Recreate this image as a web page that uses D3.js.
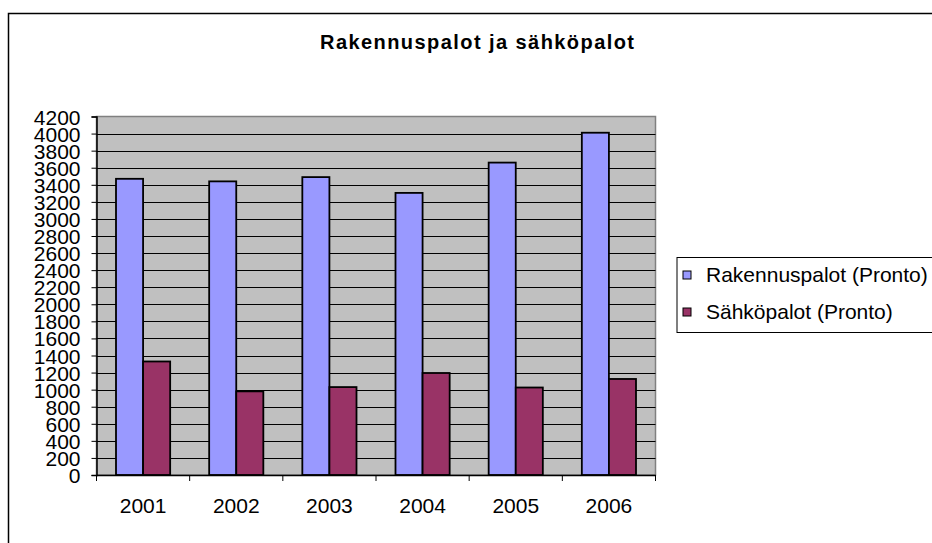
<!DOCTYPE html>
<html lang="fi">
<head>
<meta charset="utf-8">
<title>Rakennuspalot ja sähköpalot</title>
<script src="https://cdn.jsdelivr.net/npm/d3@7/dist/d3.min.js"></script>
<style>
  html, body { margin: 0; padding: 0; background: #fff; overflow: hidden; }
  text { font-family: "Liberation Sans", Arial, sans-serif; fill: #000; }
</style>
</head>
<body>
<script>
// chart data
var years = ["2001", "2002", "2003", "2004", "2005", "2006"];
var rakennuspalot = [3470, 3440, 3490, 3305, 3660, 4010];
var sahkopalot = [1330, 980, 1030, 1195, 1025, 1125];
var seriesNames = ["Rakennuspalot (Pronto)", "Sähköpalot (Pronto)"];
var seriesColors = ["#9999ff", "#993366"];
var yTicks = d3.range(0, 4201, 200);

var width = 932, height = 543;
var plot = {left: 96.5, top: 116.5, right: 655.5, bottom: 475};

var svg = d3.select("body").append("svg")
    .attr("width", width)
    .attr("height", height);

// outer chart frame (runs off the right and bottom edge)
svg.append("rect")
    .attr("x", 8.5).attr("y", 13.5)
    .attr("width", 940).attr("height", 560)
    .attr("fill", "#fff")
    .attr("stroke", "#000")
    .attr("stroke-width", 1.5);

svg.append("text")
    .attr("x", 477).attr("y", 49)
    .attr("text-anchor", "middle")
    .attr("font-size", 20)
    .attr("font-weight", "bold")
    .attr("textLength", 314)
    .text("Rakennuspalot ja sähköpalot");

var x = d3.scaleBand().domain(years).range([plot.left, plot.right]).paddingInner(0).paddingOuter(0);
var inner = d3.scaleBand().domain([0, 1]).range([0, x.bandwidth()]).paddingInner(0).paddingOuter(0.72);
var y = d3.scaleLinear().domain([0, 4200]).range([plot.bottom, plot.top]);

// plot area
svg.append("rect")
    .attr("x", plot.left).attr("y", plot.top)
    .attr("width", plot.right - plot.left).attr("height", plot.bottom - plot.top)
    .attr("fill", "#c0c0c0")
    .attr("stroke", "#808080")
    .attr("stroke-width", 1.5);

// gridlines
svg.append("g").selectAll("line")
    .data(yTicks.filter(function(d){ return d > 0 && d < 4200; }))
    .enter().append("line")
    .attr("x1", plot.left).attr("x2", plot.right)
    .attr("y1", function(d){ return Math.round(y(d)) + 0.5; })
    .attr("y2", function(d){ return Math.round(y(d)) + 0.5; })
    .attr("stroke", "#000")
    .attr("stroke-width", 1);

// bars
var groups = svg.append("g").selectAll("g")
    .data(years)
    .enter().append("g")
    .attr("transform", function(d){ return "translate(" + x(d) + ",0)"; });

groups.selectAll("rect")
    .data(function(d, i){ return [rakennuspalot[i], sahkopalot[i]]; })
    .enter().append("rect")
    .attr("x", function(d, j){ return inner(j); })
    .attr("width", inner.bandwidth())
    .attr("y", function(d){ return y(d); })
    .attr("height", function(d){ return y(0) - y(d); })
    .attr("fill", function(d, j){ return seriesColors[j]; })
    .attr("stroke", "#000")
    .attr("stroke-width", 1.8);

// y axis
var yAxis = svg.append("g")
    .attr("transform", "translate(" + plot.left + ",0)")
    .call(d3.axisLeft(y).tickValues(yTicks).tickSize(5).tickPadding(11).tickFormat(d3.format("d")));
yAxis.select(".domain").attr("stroke", "#000").attr("stroke-width", 1.5);
yAxis.selectAll(".tick line").attr("stroke", "#000");
yAxis.selectAll(".tick text")
    .attr("font-size", 21)
    .attr("font-family", "Liberation Sans, Arial, sans-serif")
    .attr("dy", "0.36em");

// x axis
var xAxis = svg.append("g")
    .attr("transform", "translate(0," + plot.bottom + ")")
    .call(d3.axisBottom(x).tickSize(0).tickPadding(23));
xAxis.select(".domain").attr("stroke", "#000").attr("stroke-width", 1.5);
xAxis.selectAll(".tick text")
    .attr("font-size", 21)
    .attr("font-family", "Liberation Sans, Arial, sans-serif");
// tick marks between categories
xAxis.selectAll("line.sep")
    .data(years.map(function(d){ return x(d); }).concat([plot.right]))
    .enter().append("line")
    .attr("class", "sep")
    .attr("x1", function(d){ return d; }).attr("x2", function(d){ return d; })
    .attr("y1", 0).attr("y2", 6)
    .attr("stroke", "#000");

// legend
var legend = svg.append("g");
legend.append("rect")
    .attr("x", 677).attr("y", 257.5)
    .attr("width", 270).attr("height", 75)
    .attr("fill", "#fff")
    .attr("stroke", "#000")
    .attr("stroke-width", 1);

var items = legend.selectAll("g.item")
    .data(seriesNames)
    .enter().append("g")
    .attr("class", "item")
    .attr("transform", function(d, i){ return "translate(683," + (271 + i * 37) + ")"; });
items.append("rect")
    .attr("width", 8).attr("height", 8)
    .attr("fill", function(d, i){ return seriesColors[i]; })
    .attr("stroke", "#000")
    .attr("stroke-width", 1);
items.append("text")
    .attr("x", 23).attr("y", 11)
    .attr("font-size", 21)
    .text(function(d){ return d; });
</script>
</body>
</html>
